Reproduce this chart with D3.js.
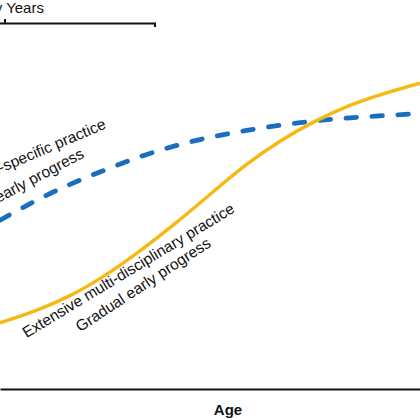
<!DOCTYPE html>
<html>
<head>
<meta charset="utf-8">
<script src="https://cdn.jsdelivr.net/npm/d3@7"></script>
<style>
  body { margin: 0; background: #fff; }
  text { font-family: "Liberation Sans", Arial, sans-serif; fill: #111; }
</style>
</head>
<body>
<svg id="chart" width="420" height="420"></svg>
<script>
// age steps (relative units, the figure has no tick labels)
var ageSteps = [0, 1, 2, 3, 4, 5, 6, 7, 8, 9, 10, 11, 12];
// performance, in % of the plot height
var multiPerf = [17.0, 20.1, 24.0, 29.2, 35.5, 42.5, 50.0, 57.4, 63.7, 68.8, 72.9, 76.0, 78.6];
var specificPerf = [43.4, 48.3, 52.6, 56.3, 59.7, 62.5, 64.7, 66.4, 67.8, 68.9, 69.7, 70.3, 70.8];

var multiLabels = ["Extensive multi-disciplinary practice", "Gradual early progress"];
var specificLabels = ["Early discipline-specific practice", "Faster early progress"];
var phaseLabel = "Early Years";
var xTitle = "Age";

var svg = d3.select("#chart");

var x = d3.scaleLinear().domain([0, 12]).range([0, 420]);
var y = d3.scaleLinear().domain([0, 100]).range([389, 0]);

var line = d3.line()
    .x(function(d) { return x(d[0]); })
    .y(function(d) { return y(d[1]); })
    .curve(d3.curveNatural);

// x axis: just the baseline, no ticks
var axis = svg.append("g")
    .attr("transform", "translate(0," + y(0) + ")")
    .call(d3.axisBottom(x).tickValues([]).tickSizeOuter(0));
axis.select(".domain").attr("stroke", "#111").attr("stroke-width", 2);

svg.append("text")
    .attr("x", 228)
    .attr("y", 415)
    .attr("text-anchor", "middle")
    .style("font-size", "15px")
    .style("font-weight", "bold")
    .text(xTitle);

// discipline-specific curve (dashed blue)
svg.append("path")
    .datum(ageSteps.map(function(a, i) { return [a, specificPerf[i]]; }))
    .attr("d", line)
    .attr("fill", "none")
    .attr("stroke", "#1a6ec0")
    .attr("stroke-width", 4.8)
    .attr("stroke-linecap", "round")
    .attr("stroke-dasharray", "10.5,15.5");

// multi-disciplinary curve (solid yellow)
svg.append("path")
    .datum(ageSteps.map(function(a, i) { return [a, multiPerf[i]]; }))
    .attr("d", line)
    .attr("fill", "none")
    .attr("stroke", "#f5b914")
    .attr("stroke-width", 3.4);

// bracket over the early years
var br = svg.append("g").attr("stroke", "#111").attr("stroke-width", 2).attr("fill", "none");
br.append("path").attr("d", "M-145,27V23.5H155V27");
br.append("path").attr("d", "M5,23.5V19");

svg.append("text")
    .attr("x", 6)
    .attr("y", 13)
    .attr("text-anchor", "middle")
    .style("font-size", "15px")
    .text(phaseLabel);

// curve labels
function label(txt, px, py, angle, anchor) {
  svg.append("text")
      .attr("transform", "translate(" + px + "," + py + ") rotate(" + angle + ")")
      .attr("text-anchor", anchor)
      .style("font-size", "15.5px")
      .text(txt);
}
label(specificLabels[0], 107, 128, -23, "end");
label(specificLabels[1], 85, 157, -28, "end");
label(multiLabels[0], 131, 275, -31.2, "middle");
label(multiLabels[1], 146, 289, -33.3, "middle");
</script>
</body>
</html>
